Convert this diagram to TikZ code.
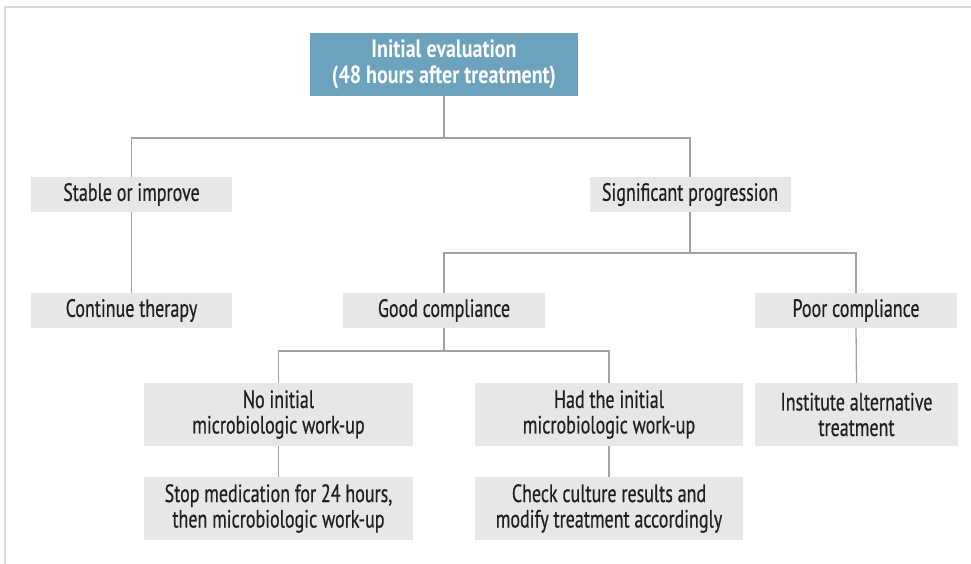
\documentclass[tikz,border=0pt]{standalone}
\usepackage{fontspec}
\setmainfont{PT Sans}[FakeStretch=0.72, FakeBold=0.5, BoldFeatures={FakeStretch=0.8, FakeBold=0}]
\definecolor{topblue}{HTML}{6BA3BE}
\definecolor{boxgray}{HTML}{E6E7E8}
\definecolor{linegray}{HTML}{A3A3A3}
\definecolor{framegray}{HTML}{D9D9D9}
\definecolor{txt}{HTML}{231F20}
\begin{document}
\begin{tikzpicture}[x=1pt,y=-1pt,
  every node/.style={inner sep=0pt, align=center, font=\fontsize{25}{25.5}\selectfont, text=txt},
  graybox/.style={fill=boxgray},
  topbox/.style={fill=topblue, text=white, font=\fontsize{25}{25.5}\selectfont\bfseries},
  conn/.style={draw=linegray, line width=1.3pt},
  framel/.style={draw=framegray, line width=2pt}]
\useasboundingbox (0,0) rectangle (971,564);
\fill[white] (0,0) rectangle (971,564);
\draw[framel] (5,564) -- (5,7) -- (971,7);

\node[topbox, minimum width=268pt, minimum height=63pt] (top) at (444,64.5) {Initial evaluation\\(48 hours after treatment)};
\node[graybox, minimum width=201pt, minimum height=35pt] (stable) at (131.5,194.5) {Stable or improve};
\node[graybox, minimum width=201pt, minimum height=35pt] (sig) at (690,194.5) {Significant progression};
\node[graybox, minimum width=201pt, minimum height=35pt] (cont) at (131.5,310.5) {Continue therapy};
\node[graybox, minimum width=202pt, minimum height=35pt] (good) at (444,310.5) {Good compliance};
\node[graybox, minimum width=202pt, minimum height=35pt] (poor) at (856,310.5) {Poor compliance};
\node[graybox, minimum width=269pt, minimum height=63pt] (noinit) at (278.5,414.5) {No initial\\microbiologic work-up};
\node[graybox, minimum width=268pt, minimum height=63pt] (had) at (609,414.5) {Had the initial\\microbiologic work-up};
\node[graybox, minimum width=203pt, minimum height=63pt] (inst) at (856.5,414.5) {Institute alternative\\treatment};
\node[graybox, minimum width=269pt, minimum height=63pt] (stop) at (278.5,508.5) {Stop medication for 24 hours,\\then microbiologic work-up};
\node[graybox, minimum width=268pt, minimum height=63pt] (check) at (609,508.5) {Check culture results and\\modify treatment accordingly};

\coordinate (j1) at (444,138);
\coordinate (j2) at (690,253);
\coordinate (j3) at (444,351);

\draw[conn] (top.south) -- (j1);
\draw[conn] (stable.north) |- (j1) -| (sig.north);
\draw[conn] (stable.south) -- (cont.north);
\draw[conn] (sig.south) -- (j2);
\draw[conn] (good.north) |- (j2) -| (poor.north);
\draw[conn] (good.south) -- (j3);
\draw[conn] (noinit.north) |- (j3) -| (had.north);
\draw[conn] (noinit.south) -- (stop.north);
\draw[conn] (had.south) -- (check.north);
\draw[conn] (poor.south) -- (inst.north);
\end{tikzpicture}
\end{document}
